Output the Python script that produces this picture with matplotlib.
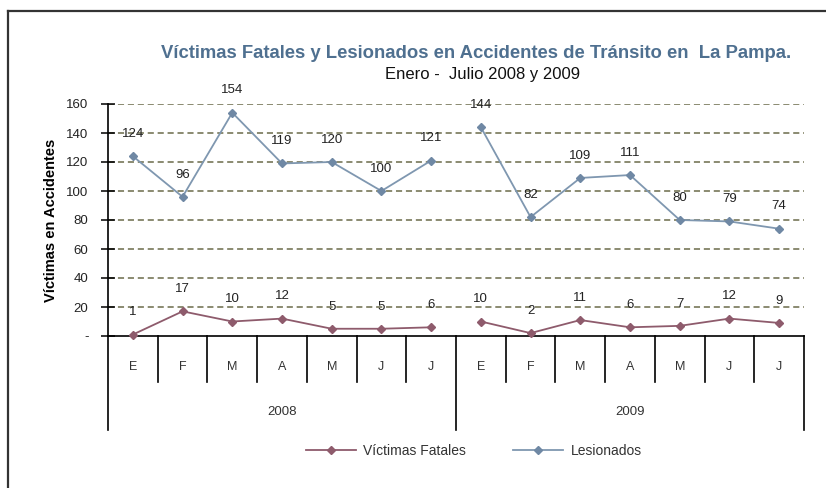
import matplotlib
matplotlib.use("Agg")
import matplotlib.pyplot as plt
import matplotlib.transforms as mtransforms
from matplotlib.lines import Line2D
import numpy as np

plt.rcParams['font.family'] = ['Liberation Sans', 'DejaVu Sans']

# datos
meses = ['E', 'F', 'M', 'A', 'M', 'J', 'J', 'E', 'F', 'M', 'A', 'M', 'J', 'J']
anios = ['2008', '2009']
lesionados = [124, 96, 154, 119, 120, 100, 121, 144, 82, 109, 111, 80, 79, 74]
fatales = [1, 17, 10, 12, 5, 5, 6, 10, 2, 11, 6, 7, 12, 9]
yticks = [0, 20, 40, 60, 80, 100, 120, 140, 160]
ytick_labels = ['-', '20', '40', '60', '80', '100', '120', '140', '160']

col_les = '#7F97B0'
col_fat = '#8E5B6C'

fig = plt.figure(figsize=(8.26, 4.88), dpi=100)
ax = fig.add_axes([108/826, 1-336/488, (804-108)/826, (336-104)/488])

x = np.arange(len(meses))
# two separate segments per year
for s in (slice(0, 7), slice(7, 14)):
    ax.plot(x[s], np.array(lesionados)[s], color=col_les, lw=1.3,
            marker='D', ms=4.5, mfc='#6F88A4', mec='#6F88A4', zorder=3)
    ax.plot(x[s], np.array(fatales)[s], color=col_fat, lw=1.3,
            marker='D', ms=4.5, mfc=col_fat, mec=col_fat, zorder=3, clip_on=False)

for xi, v in zip(x, lesionados):
    ax.annotate(str(v), (xi, v), xytext=(0, 16), textcoords='offset points',
                ha='center', va='center', fontsize=9.5, color='#222222', annotation_clip=False)
for xi, v in zip(x, fatales):
    ax.annotate(str(v), (xi, v), xytext=(0, 16), textcoords='offset points',
                ha='center', va='center', fontsize=9.5, color='#222222', annotation_clip=False)

ax.set_xlim(-0.5, 13.5)
ax.set_ylim(0, 160)
ax.set_yticks(yticks)
ax.set_yticklabels(ytick_labels, fontsize=9.5, color='#222222')
ax.tick_params(axis='y', direction='inout', length=10, width=1.1, pad=9)
ax.set_xticks([])
for yv in yticks[1:]:
    ax.axhline(yv, color='#6B6B4A', lw=1.1, ls=(0, (4, 2.5)), zorder=1)

for sp in ['top', 'right']:
    ax.spines[sp].set_visible(False)
ax.spines['left'].set_linewidth(1.2)
ax.spines['bottom'].set_linewidth(1.2)

# eje de categorias en dos niveles
trans = mtransforms.blended_transform_factory(ax.transData, ax.transAxes)
for i, m in enumerate(meses):
    ax.text(i, -0.134, m, transform=trans, ha='center', va='center', fontsize=9, color='#333333')
for b in np.arange(0.5, 13, 1):
    bottom = -0.405 if b == 6.5 else -0.198
    ax.add_line(Line2D([b, b], [0, bottom], transform=trans, color='black', lw=1.2, clip_on=False))
ax.add_line(Line2D([-0.5, -0.5], [0, -0.405], transform=trans, color='black', lw=1.2, clip_on=False))
ax.add_line(Line2D([13.5, 13.5], [0, -0.405], transform=trans, color='black', lw=1.2, clip_on=False))
for j, a in enumerate(anios):
    ax.text(3 + 7*j, -0.328, a, transform=trans, ha='center', va='center', fontsize=9.5, color='#333333')

ax.set_ylabel('Víctimas en Accidentes', fontsize=10.5, fontweight='bold', labelpad=6)

fig.text(476/826, 1-53/488, 'Víctimas Fatales y Lesionados en Accidentes de Tránsito en  La Pampa.',
         ha='center', va='center', fontsize=13.3, fontweight='bold', color='#4F7090')
fig.text(483/826, 1-74/488, 'Enero -  Julio 2008 y 2009', ha='center', va='center',
         fontsize=12, color='#111111')

h1 = Line2D([], [], color=col_fat, lw=1.3, marker='D', ms=4.5, mfc=col_fat, mec=col_fat)
h2 = Line2D([], [], color=col_les, lw=1.3, marker='D', ms=4.5, mfc='#6F88A4', mec='#6F88A4')
fig.legend([h1, h2], ['Víctimas Fatales', 'Lesionados'], loc='center',
           bbox_to_anchor=(474/826, 1-451/488), ncol=2, frameon=False, fontsize=10,
           handlelength=3.6, handletextpad=0.5, columnspacing=3.4, labelcolor='#333333')

# marco del grafico
fig.add_artist(Line2D([8/826, 1], [1-11/488, 1-11/488], transform=fig.transFigure, color='#333333', lw=1.6))
fig.add_artist(Line2D([8/826, 8/826], [1-11/488, 0], transform=fig.transFigure, color='#333333', lw=1.6))

fig.savefig('out.png', dpi=100)
